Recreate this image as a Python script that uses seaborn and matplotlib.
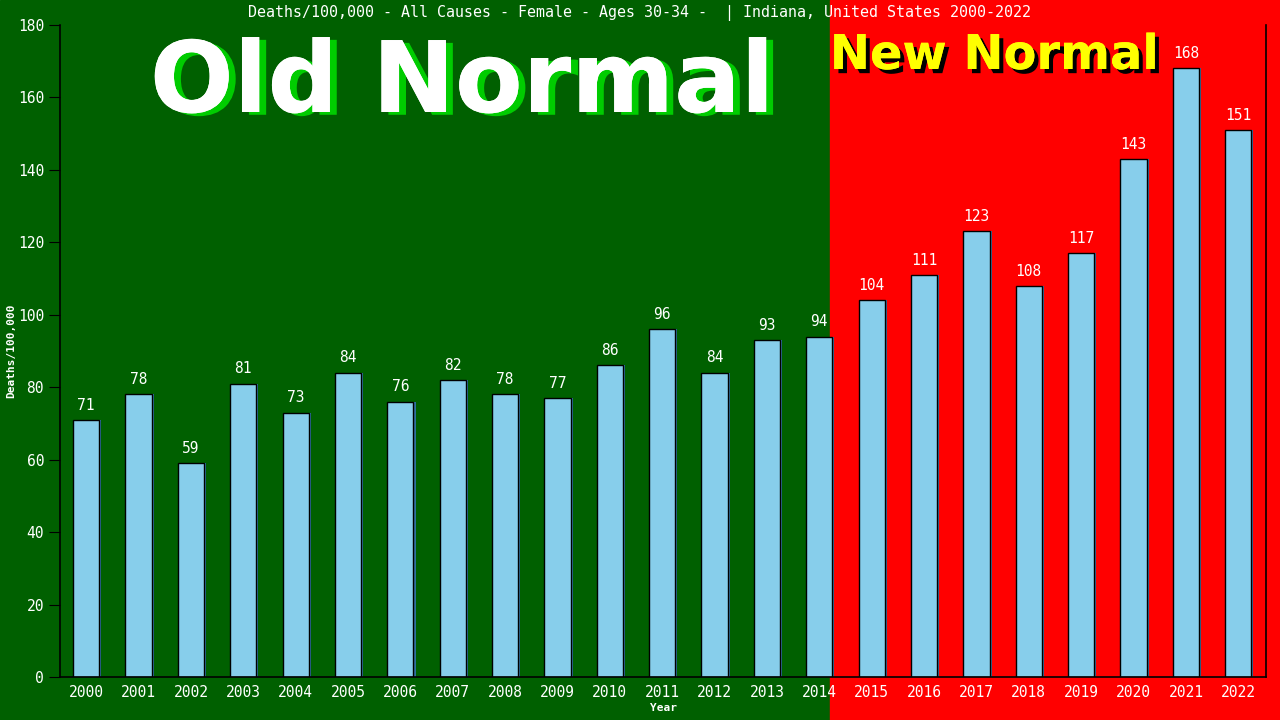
import matplotlib
matplotlib.use("Agg")
import matplotlib.pyplot as plt
import seaborn as sns
import pandas as pd
from matplotlib.patches import Rectangle
import matplotlib.patheffects as pe

years = [str(y) for y in range(2000, 2023)]
values = [71, 78, 59, 81, 73, 84, 76, 82, 78, 77, 86, 96, 84, 93, 94,
          104, 111, 123, 108, 117, 143, 168, 151]
title = "Deaths/100,000 - All Causes - Female - Ages 30-34 -  | Indiana, United States 2000-2022"

df = pd.DataFrame({"Year": years, "Deaths": values})

sns.set_style("white")
plt.rcParams["font.family"] = ["DejaVu Sans Mono", "DejaVu Sans"]

fig = plt.figure(figsize=(12.8, 7.2), dpi=100)
ax = fig.add_axes([60/1280, 43/720, 1206/1280, 652/720])
ax.set_facecolor("none")

sns.barplot(data=df, x="Year", y="Deaths", order=years, color="#87CEEB",
            saturation=1, width=0.5, edgecolor="black", linewidth=1, ax=ax,
            path_effects=[pe.SimplePatchShadow(offset=(1.5, 0), shadow_rgbFace="#3070a0", alpha=1),
                          pe.Normal()])

ax.set_xlim(-0.5, 22.53)
ax.set_ylim(0, 180)
ax.set_yticks(range(0, 181, 20))

for i, v in enumerate(values):
    ax.text(i, v + 2, str(v), ha="center", va="bottom", color="white", fontsize=10.5)

# background split
fig.canvas.draw()
bx = ax.transData.transform((14.2, 0))[0]
bxf = fig.transFigure.inverted().transform((bx, 0))[0]
fig.patches.append(Rectangle((0, 0), bxf, 1, transform=fig.transFigure,
                             color="#006000", zorder=-10))
fig.patches.append(Rectangle((bxf, 0), 1 - bxf, 1, transform=fig.transFigure,
                             color="#ff0000", zorder=-10))

for s in ["left", "bottom", "right"]:
    ax.spines[s].set_visible(True)
    ax.spines[s].set_color("black")
    ax.spines[s].set_linewidth(1.2)
ax.spines["top"].set_visible(False)

ax.tick_params(axis="y", colors="white", labelsize=10.5, length=8, direction="out", left=True, color="black")
ax.tick_params(axis="x", colors="white", labelsize=10.5, length=0, pad=6)
for t in ax.get_yticklabels():
    t.set_color("white")
ax.set_xlabel("Year", color="white", fontsize=8, fontweight="bold", labelpad=2)
ax.set_ylabel("Deaths/100,000", color="white", fontsize=8, fontweight="bold")
ax.yaxis.set_label_coords(-44/1206, 0.5)

fig.text(640/1280, 1 - 13/720, title, ha="center", va="center", color="white", fontsize=10.8)

fig.text(462/1280, 1 - 112/720, "Old Normal", ha="center", va="baseline", color="white",
         fontsize=71, fontweight="bold", family="DejaVu Sans",
         path_effects=[pe.withSimplePatchShadow(offset=(5, -2), shadow_rgbFace="#00cc00", alpha=1),
                       pe.Normal()])
fig.text(994/1280, 1 - 69/720, "New Normal", ha="center", va="baseline", color="#ffff00",
         fontsize=34.5, fontweight="bold", family="DejaVu Sans",
         path_effects=[pe.withSimplePatchShadow(offset=(3, -3), shadow_rgbFace="black", alpha=1),
                       pe.Normal()])

fig.savefig("out.png", dpi=100)
